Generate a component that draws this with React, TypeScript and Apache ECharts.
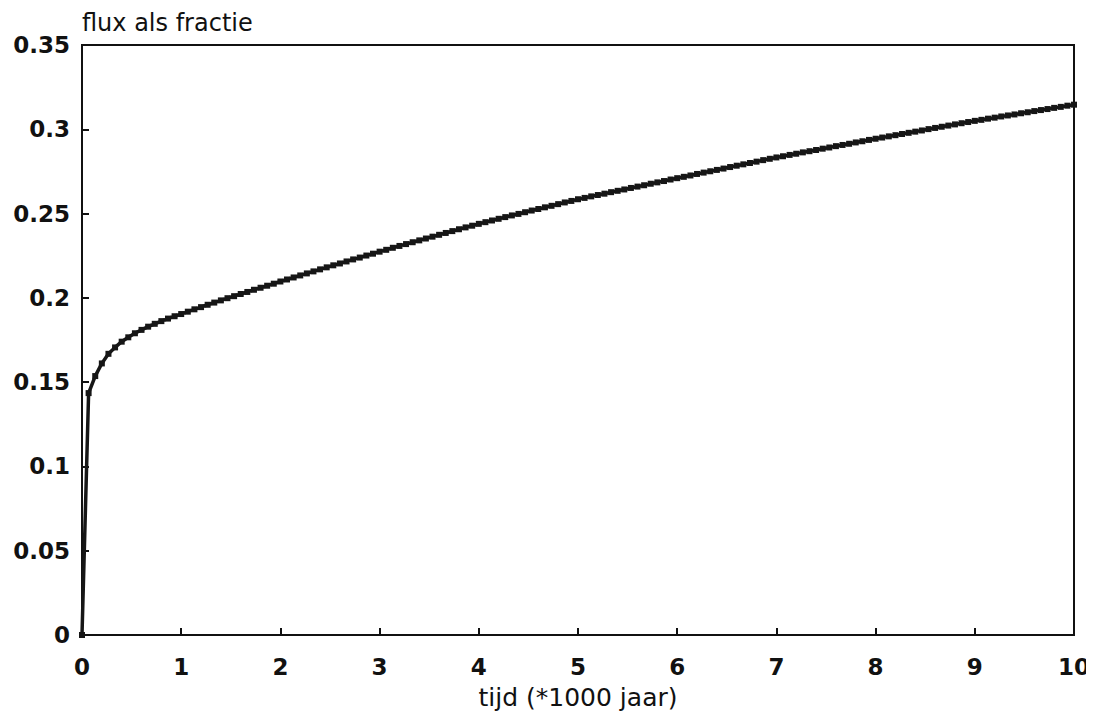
import React, { useEffect, useRef } from "react";
import * as echarts from "echarts";

// sampling step of the model output, in units of 1000 years
const timeStep = 1 / 15;

// flux as fraction, one value per time step
const fluxValues = [
  0, 0.1435, 0.1536, 0.1611, 0.1668, 0.1706, 0.174, 0.1766, 0.179, 0.181, 0.1829, 0.1846, 0.1862, 0.1877, 0.1891, 0.1904,
  0.1918, 0.1932, 0.1945, 0.1959, 0.1972, 0.1985, 0.1998, 0.201, 0.2023, 0.2035, 0.2048, 0.206, 0.2072, 0.2084, 0.2097,
  0.2109, 0.2121, 0.2133, 0.2145, 0.2157, 0.2169, 0.2181, 0.2193, 0.2204, 0.2216, 0.2228, 0.2239, 0.2251, 0.2262, 0.2274,
  0.2285, 0.2297, 0.2308, 0.2319, 0.233, 0.2341, 0.2352, 0.2363, 0.2374, 0.2385, 0.2396, 0.2407, 0.2418, 0.2428, 0.2439,
  0.2449, 0.2459, 0.2469, 0.2479, 0.2489, 0.2498, 0.2508, 0.2518, 0.2527, 0.2537, 0.2546, 0.2556, 0.2566, 0.2575, 0.2585,
  0.2593, 0.2602, 0.261, 0.2618, 0.2627, 0.2635, 0.2643, 0.2652, 0.266, 0.2668, 0.2677, 0.2685, 0.2693, 0.2702, 0.271,
  0.2718, 0.2726, 0.2735, 0.2743, 0.2751, 0.2759, 0.2767, 0.2776, 0.2784, 0.2792, 0.28, 0.2808, 0.2817, 0.2825, 0.2833,
  0.284, 0.2848, 0.2855, 0.2863, 0.287, 0.2877, 0.2885, 0.2892, 0.29, 0.2907, 0.2914, 0.2922, 0.2929, 0.2937, 0.2944,
  0.2951, 0.2958, 0.2965, 0.2972, 0.2979, 0.2986, 0.2993, 0.3001, 0.3008, 0.3015, 0.3022, 0.3029, 0.3036, 0.3043, 0.305,
  0.3056, 0.3063, 0.3069, 0.3076, 0.3082, 0.3088, 0.3095, 0.3101, 0.3108, 0.3114, 0.312, 0.3127, 0.3133, 0.314, 0.3146,
];

const xAxisName = "tijd (*1000 jaar)";
const yAxisName = "flux als fractie";
const xMin = 0;
const xMax = 10;
const xInterval = 1;
const yMin = 0;
const yMax = 0.35;
const yInterval = 0.05;

export default function App() {
  const ref = useRef<HTMLDivElement>(null);

  useEffect(() => {
    if (!ref.current) return;
    const chart = echarts.init(ref.current, undefined, { renderer: "svg" });
    const data = fluxValues.map((v, i) => [i * timeStep, v]);
    const labelFont = {
      color: "#111",
      fontFamily: "DejaVu Sans",
      fontWeight: "bold" as const,
      fontSize: 23,
    };
    chart.setOption({
      animation: false,
      backgroundColor: "#fff",
      grid: {
        left: 74,
        right: 20,
        top: 37,
        bottom: 83,
        show: true,
        borderColor: "#111",
        borderWidth: 2,
        backgroundColor: "transparent",
      },
      xAxis: {
        type: "value",
        min: xMin,
        max: xMax,
        interval: xInterval,
        name: xAxisName,
        nameLocation: "middle",
        nameGap: 50,
        nameTextStyle: { color: "#111", fontFamily: "DejaVu Sans", fontSize: 25 },
        axisLine: { show: true, lineStyle: { color: "#111", width: 2 } },
        axisTick: { show: true, inside: true, length: 7, lineStyle: { color: "#111", width: 2 } },
        axisLabel: { ...labelFont, margin: 20 },
        splitLine: { show: false },
      },
      yAxis: {
        type: "value",
        min: yMin,
        max: yMax,
        interval: yInterval,
        name: yAxisName,
        nameLocation: "end",
        nameGap: 10,
        nameTextStyle: {
          color: "#111",
          fontFamily: "DejaVu Sans",
          fontSize: 24,
          align: "left",
          verticalAlign: "bottom",
        },
        axisLine: { show: true, lineStyle: { color: "#111", width: 2 } },
        axisTick: { show: true, inside: true, length: 7, lineStyle: { color: "#111", width: 2 } },
        axisLabel: { ...labelFont, margin: 12 },
        splitLine: { show: false },
      },
      series: [
        {
          type: "line",
          data,
          symbol: "rect",
          symbolSize: 6,
          showSymbol: true,
          showAllSymbol: true,
          lineStyle: { color: "#161616", width: 3.5 },
          itemStyle: { color: "#161616" },
        },
      ],
    });
    return () => chart.dispose();
  }, []);

  return <div ref={ref} style={{ width: 1086, height: 710 }} />;
}
